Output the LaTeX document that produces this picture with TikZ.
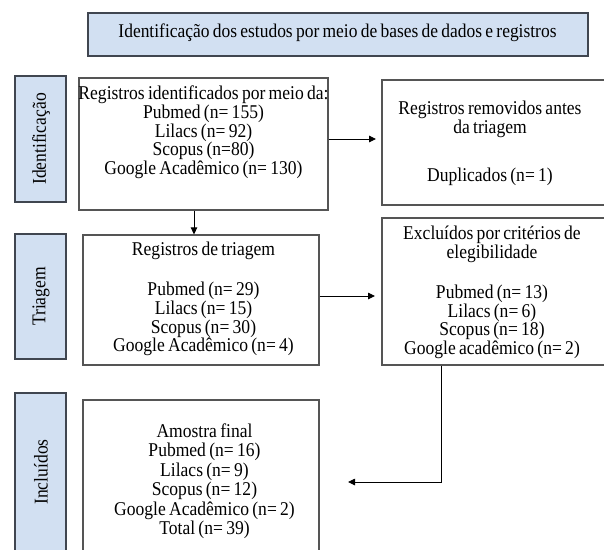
\documentclass[tikz,border=0pt]{standalone}
\usepackage{fontspec}
\setmainfont{Liberation Serif}[FakeStretch=0.9,WordSpace=0.75]
\usetikzlibrary{arrows.meta}
\definecolor{sideblue}{RGB}{210,224,242}
\definecolor{sideborder}{RGB}{64,70,80}
\definecolor{boxborder}{RGB}{85,85,85}
\tikzset{
  sidebox/.style={draw=sideborder, line width=1.6pt, fill=sideblue, inner sep=0pt},
  wbox/.style={draw=boxborder, line width=1.2pt, fill=white, inner sep=0pt},
  txt/.style={align=center, inner sep=0pt, font=\fontsize{19.5}{18.7}\selectfont},
  sidetxt/.style={rotate=90, inner sep=0pt, font=\fontsize{19.5}{18.7}\selectfont},
  arr/.style={draw=black, line width=0.9pt, -{Triangle[length=7pt,width=6.5pt]}}
}
\begin{document}
\begin{tikzpicture}[x=1pt, y=-1pt]
\useasboundingbox (0,0) rectangle (604,549);
\clip (0,0) rectangle (604,549);
% title
\node[sidebox, minimum width=500pt, minimum height=43pt] (title) at (338,34.5) {};
\node[txt, font=\fontsize{19.4}{18.7}\selectfont] (titletxt) at (337.5,33) {Identificação dos estudos por meio de bases de dados e registros};
% side boxes
\node[sidebox, minimum width=51pt, minimum height=126pt] (sid) at (40.5,139) {};
\node[sidetxt] (sidtxt) at (41,139) {Identificação};
\node[sidebox, minimum width=51pt, minimum height=125pt] (stri) at (40.5,296.5) {};
\node[sidetxt] (stritxt) at (41,296.5) {Triagem};
\node[sidebox, minimum width=51pt, minimum height=167pt] (sinc) at (40.5,476.5) {};
\node[sidetxt] (sinctxt) at (41,472) {Incluídos};
% main boxes
\node[wbox, minimum width=249pt, minimum height=132pt] (b1) at (203.5,144) {};
\node[txt] (t1) at (203.5,132.5) {Registros identificados por meio da:\\Pubmed (n= 155)\\Lilacs (n= 92)\\Scopus (n=80)\\Google Acadêmico (n= 130)};
\node[wbox, minimum width=238pt, minimum height=125pt] (r1) at (501,142.5) {};
\node[txt] (tr1) at (490,143.3) {Registros removidos antes\\da triagem\\[29pt]Duplicados (n= 1)};
\node[wbox, minimum width=236pt, minimum height=130pt] (b2) at (201,300) {};
\node[txt] (t2) at (203.5,299.2) {Registros de triagem\\[21.3pt]Pubmed (n= 29)\\Lilacs (n= 15)\\Scopus (n= 30)\\Google Acadêmico (n= 4)};
\node[wbox, minimum width=238pt, minimum height=147pt] (r2) at (501,291.5) {};
\node[txt] (tr2) at (492,292.5) {Excluídos por critérios de\\elegibilidade\\[21.3pt]Pubmed (n= 13)\\Lilacs (n= 6)\\Scopus (n= 18)\\Google acadêmico (n= 2)};
\node[wbox, minimum width=236pt, minimum height=160pt] (b3) at (201,480) {};
\node[txt, font=\fontsize{19.5}{19.5}\selectfont] (t3) at (204.5,481) {Amostra final\\Pubmed (n= 16)\\Lilacs (n= 9)\\Scopus (n= 12)\\Google Acadêmico (n= 2)\\Total (n= 39)};
% connectors
\coordinate (a1end) at (376,139);
\draw[arr] (b1.east |- a1end) -- (a1end);
\coordinate (dx) at (194,0);
\draw[arr] (b1.south -| dx) -- (b2.north -| dx);
\coordinate (a2end) at (375,296);
\draw[arr] (b2.east |- a2end) -- (a2end);
\coordinate (a3x) at (441,0);
\coordinate (a3end) at (348,482);
\draw[arr] (r2.south -| a3x) |- (a3end);
\end{tikzpicture}
\end{document}
